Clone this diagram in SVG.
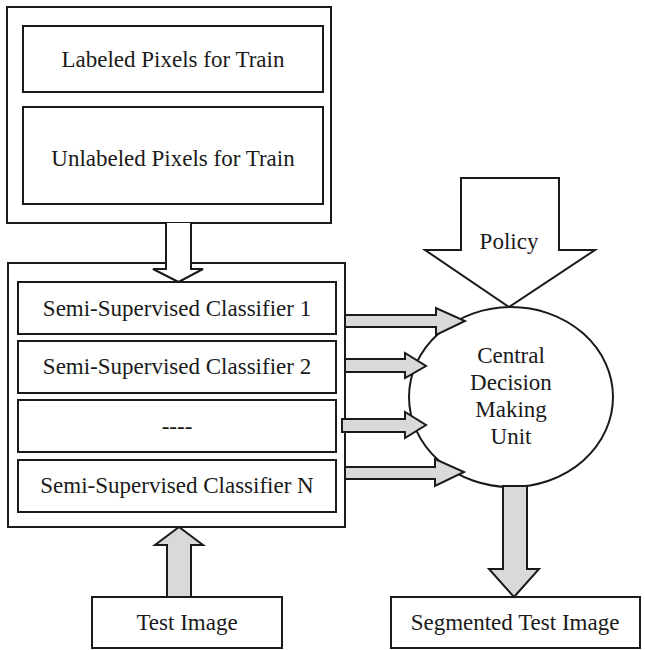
<svg xmlns="http://www.w3.org/2000/svg" width="645" height="650" viewBox="0 0 645 650">
  <style>
    .box { fill: #ffffff; stroke: #1a1a1a; stroke-width: 2; }
    .arw { fill: #ffffff; stroke: #1a1a1a; stroke-width: 2; stroke-linejoin: miter; }
    .garw { fill: #d9d9d9; stroke: #1a1a1a; stroke-width: 2; stroke-linejoin: miter; }
    .lbl { font-family: "Liberation Serif", "Times New Roman", serif; font-size: 23px; fill: #1a1a1a; text-anchor: middle; }
  </style>
  <rect width="645" height="650" fill="#ffffff"/>

  <!-- training data container -->
  <g id="training-data">
    <rect class="box" x="7" y="7" width="324" height="216"/>
    <g id="labeled-pixels">
      <rect class="box" x="23" y="26" width="300" height="66"/>
      <text class="lbl" x="173" y="67">Labeled Pixels for Train</text>
    </g>
    <g id="unlabeled-pixels">
      <rect class="box" x="23" y="107" width="300" height="97"/>
      <text class="lbl" x="173" y="166">Unlabeled Pixels for Train</text>
    </g>
  </g>

  <!-- classifier bank -->
  <g id="classifier-bank">
    <rect class="box" x="8" y="263" width="337" height="264"/>
    <g id="classifier-1">
      <rect class="box" x="18" y="282" width="318" height="52"/>
      <text class="lbl" x="177" y="316">Semi-Supervised Classifier 1</text>
    </g>
    <g id="classifier-2">
      <rect class="box" x="18" y="341" width="318" height="52"/>
      <text class="lbl" x="177" y="374">Semi-Supervised Classifier 2</text>
    </g>
    <g id="classifier-dots">
      <rect class="box" x="18" y="400" width="318" height="52"/>
      <text class="lbl" x="177" y="434">----</text>
    </g>
    <g id="classifier-n">
      <rect class="box" x="18" y="460" width="318" height="52"/>
      <text class="lbl" x="177" y="493">Semi-Supervised Classifier N</text>
    </g>
  </g>

  <!-- decision unit -->
  <g id="decision-unit">
    <ellipse class="box" cx="511" cy="397" rx="102" ry="90"/>
    <text class="lbl" x="511" y="363">Central</text>
    <text class="lbl" x="511" y="390">Decision</text>
    <text class="lbl" x="511" y="417">Making</text>
    <text class="lbl" x="511" y="444">Unit</text>
  </g>

  <g id="test-image">
    <rect class="box" x="92" y="597" width="190" height="51"/>
    <text class="lbl" x="187" y="630">Test Image</text>
  </g>

  <g id="segmented-image">
    <rect class="box" x="391" y="597" width="249" height="51"/>
    <text class="lbl" x="515" y="630">Segmented Test Image</text>
  </g>

  <!-- block arrows -->
  <g id="connectors">
    <!-- training data to classifiers -->
    <path class="arw" d="M166,223 V269 H153 L178.5,282 L203,269 H191 V223"/>
    <!-- test image to classifiers -->
    <path class="garw" d="M167,597 V545 H155 L179,527 L203,545 H191 V597 Z"/>
    <!-- classifiers to decision unit -->
    <path class="garw" d="M345,315 H436 V308 L465,321 L436,335 V327 H345 Z"/>
    <path class="garw" d="M345,359 H405 V353 L426,366 L405,378 V372 H345 Z"/>
    <path class="garw" d="M342,419 H405 V412 L426,425 L405,438 V432 H342 Z"/>
    <path class="garw" d="M345,467 H435 V459 L464,472 L435,486 V479 H345 Z"/>
    <!-- decision unit to segmented image -->
    <path class="garw" d="M503,486 V569 H489 L514,597 L539,569 H527 V486 Z"/>
    <!-- policy input -->
    <g id="policy">
      <path class="arw" d="M461,178 H559 V250 H595 L509,307 L425,250 H461 Z"/>
      <text class="lbl" x="509" y="249">Policy</text>
    </g>
  </g>
</svg>
